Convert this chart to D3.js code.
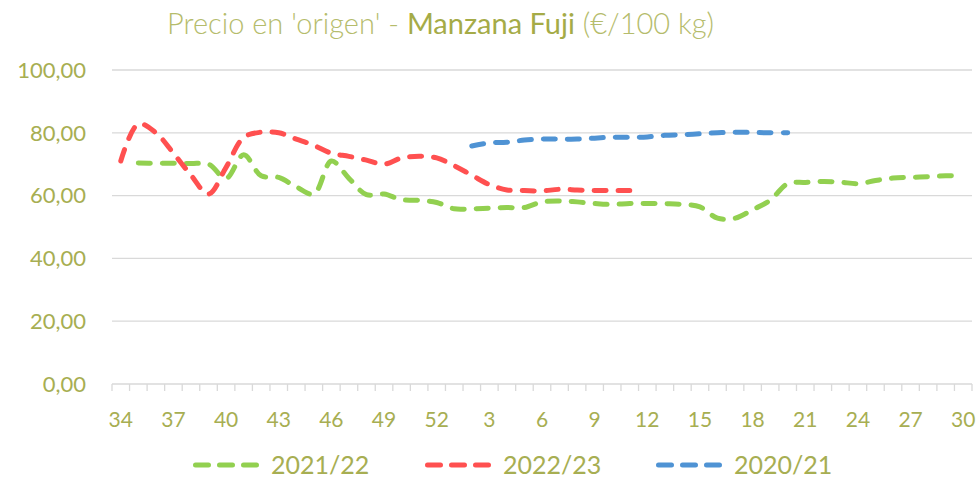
<!DOCTYPE html>
<html>
<head>
<meta charset="utf-8">
<script src="https://cdn.jsdelivr.net/npm/d3@7"></script>
<style>
  body { margin: 0; background: #fff; }
  text { font-family: Lato, "Open Sans", sans-serif; }
</style>
</head>
<body>
<svg class="chart"></svg>
<script>
const W = 978, H = 481;
const margin = {top: 70, right: 6, bottom: 97, left: 112};

// semanas (34..52, 1..30)
var weeks = [34,35,36,37,38,39,40,41,42,43,44,45,46,47,48,49,50,51,52,
  1,2,3,4,5,6,7,8,9,10,11,12,13,14,15,16,17,18,19,20,21,22,23,24,25,26,27,28,29,30];

var s2021 = [null,70.4,70.3,70.3,70.2,70,65.5,73,66.3,65.8,62.8,60.5,71,65.5,60.3,60.5,58.7,58.5,57.8,
  55.8,55.8,56,56.2,56.2,58,58.3,58,57.5,57.2,57.5,57.5,57.4,57.2,56.4,52.8,52.8,55.5,58.5,63.8,
  64.2,64.5,64.3,63.8,64.8,65.6,65.8,66,66.3,66.3];

var s2022 = [71,82.8,80,73.5,66.5,60.5,69,78.5,80.2,80,78,76,73.5,72.5,71.3,70,72,72.5,72,
  69.5,66.5,63.5,61.8,61.6,61.5,62,61.8,61.6,61.6,61.6,null,null,null,null,null,null,null,null,null,
  null,null,null,null,null,null,null,null,null,null];

var s2020 = [null,null,null,null,null,null,null,null,null,null,null,null,null,null,null,null,null,null,null,
  null,75.8,76.8,77,77.7,78,78,78,78.3,78.6,78.6,78.7,79.2,79.4,79.7,80,80.2,80.1,80,80,
  null,null,null,null,null,null,null,null,null,null];

var seriesNames = ["2021/22", "2022/23", "2020/21"];
var seriesColors = ["#92d050", "#ff5050", "#4f93d4"];
var yTicks = [0, 20, 40, 60, 80, 100];

const svg = d3.select('.chart').attr('width', W).attr('height', H);

var x = d3.scaleBand()
  .domain(weeks.map((d, i) => i))
  .range([margin.left, W - margin.right]);

var y = d3.scaleLinear()
  .domain([0, 100])
  .range([H - margin.bottom, margin.top]);

var fmt = d3.formatLocale({decimal: ",", thousands: ".", grouping: [3], currency: ["", "€"]}).format(".2f");
var labelColor = "#a7ae52";

// gridlines
svg.append('g').selectAll('line')
  .data(yTicks)
  .enter().append('line')
    .attr('x1', margin.left).attr('x2', W - margin.right)
    .attr('y1', d => y(d)).attr('y2', d => y(d))
    .attr('stroke', '#d9d9d9').attr('stroke-width', 1.3);

// y labels
svg.append('g').selectAll('text')
  .data(yTicks)
  .enter().append('text')
    .attr('x', 86).attr('y', d => y(d)).attr('dy', '0.35em')
    .attr('text-anchor', 'end')
    .attr('fill', labelColor).attr('font-size', 22)
    .text(d => fmt(d));

// x tick marks at category boundaries
svg.append('g').selectAll('line')
  .data(d3.range(weeks.length + 1))
  .enter().append('line')
    .attr('x1', i => margin.left + i * x.step()).attr('x2', i => margin.left + i * x.step())
    .attr('y1', y(0)).attr('y2', y(0) + 7)
    .attr('stroke', '#d9d9d9').attr('stroke-width', 1.3);

// x labels every 3 weeks
svg.append('g').selectAll('text')
  .data(weeks.map((w, i) => ({w, i})).filter(d => d.i % 3 == 0))
  .enter().append('text')
    .attr('x', d => x(d.i) + x.bandwidth() / 2).attr('y', 427)
    .attr('text-anchor', 'middle')
    .attr('fill', labelColor).attr('font-size', 21)
    .text(d => d.w);

// lines
var line = d3.line()
  .defined(d => d != null)
  .x((d, i) => x(i) + x.bandwidth() / 2)
  .y(d => y(d))
  .curve(d3.curveCatmullRom.alpha(0.5));

[s2021, s2022, s2020].forEach((s, k) => {
  svg.append('path')
    .attr('d', line(s))
    .attr('fill', 'none')
    .attr('stroke', seriesColors[k])
    .attr('stroke-width', 5)
    .attr('stroke-linecap', 'round')
    .attr('stroke-dasharray', '12,12');
});

// title
var title = svg.append('text')
  .attr('x', 167).attr('y', 34)
  .attr('font-size', 29).attr('font-weight', 300).attr('fill', '#b5bc6c');
title.append('tspan').text("Precio en 'origen' - ");
title.append('tspan').attr('font-weight', 400).attr('fill', '#a5ab47').text('Manzana Fuji');
title.append('tspan').text(' (€/100 kg)');

// legend
var legendX = [193, 425, 656];
var lg = svg.append('g').selectAll('g')
  .data(seriesNames)
  .enter().append('g')
    .attr('transform', (d, i) => 'translate(' + legendX[i] + ',465)');
lg.append('line')
  .attr('x1', 2.5).attr('x2', 63.5)
  .attr('stroke', (d, i) => seriesColors[i])
  .attr('stroke-width', 5).attr('stroke-linecap', 'round')
  .attr('stroke-dasharray', '13,11');
lg.append('text')
  .attr('x', 78).attr('dy', '0.35em')
  .attr('fill', labelColor).attr('font-size', 25)
  .text(d => d);
</script>
</body>
</html>
